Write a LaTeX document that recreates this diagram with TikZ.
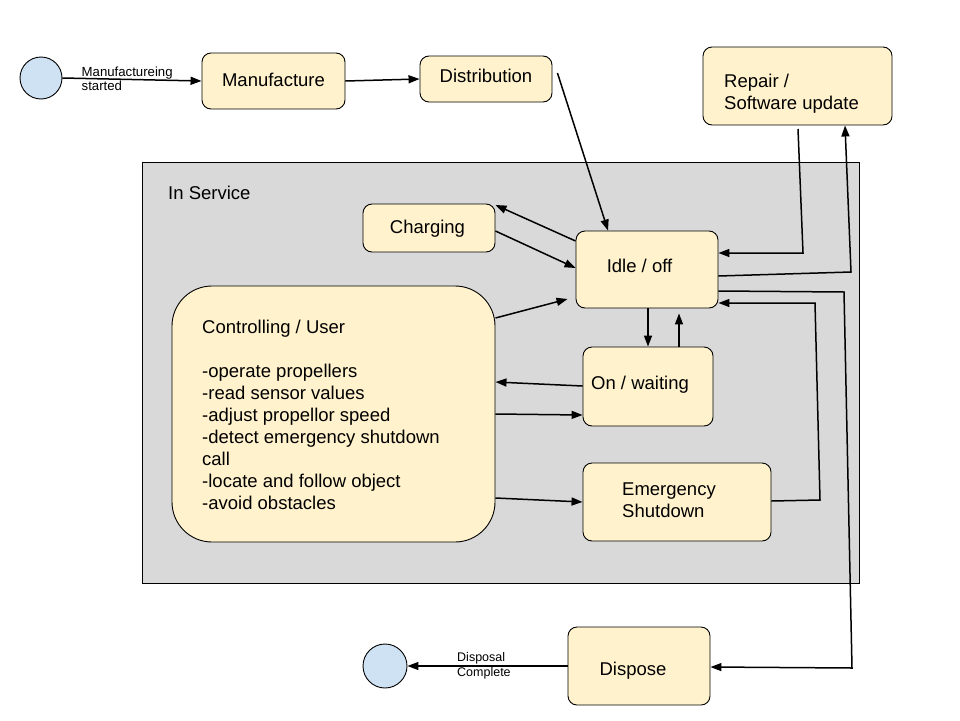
\documentclass[tikz,border=0pt]{standalone}
\usepackage{fontspec}
\setmainfont{Liberation Sans}
\usetikzlibrary{arrows.meta,calc}
\definecolor{boxfill}{HTML}{FFF2CC}
\definecolor{circfill}{HTML}{CFE2F3}
\definecolor{grayfill}{HTML}{D9D9D9}
\begin{document}
\begin{tikzpicture}[x=1pt,y=-1pt,
 state/.style={draw, fill=boxfill, rounded corners=9pt, line width=0.9pt, inner sep=0pt},
 txt/.style={font=\fontsize{18.5}{22}\selectfont, align=left, inner sep=0pt},
 endpt/.style={circle, draw, fill=circfill, line width=0.9pt, inner sep=0pt},
 conn/.style={line width=1.5pt, -{Triangle[length=11pt,width=8pt]}},
 lbl/.style={align=left, inner sep=0pt}]
\useasboundingbox (0,0) rectangle (960,720);
% container
\node[draw, fill=grayfill, line width=0.9pt, minimum width=717pt, minimum height=421pt, inner sep=0pt] (service) at (500.5,372.5) {};
\node[txt, anchor=west] (servicelbl) at (168,193) {In Service};
% endpoints
\node[endpt, minimum size=42pt] (start) at (41,78) {};
\node[endpt, minimum size=44pt] (finish) at (385,666) {};
% states
\node[state, minimum width=143pt, minimum height=56pt] (manu) at (273.5,81) {};
\node[txt] (manut) at (273.5,80) {Manufacture};
\node[state, minimum width=132pt, minimum height=46pt] (dist) at (486,79) {};
\node[txt] (distt) at (486,76) {Distribution};
\node[state, minimum width=189pt, minimum height=78pt] (rep) at (797.5,86) {};
\node[txt, anchor=west] (rept) at (724,94) {Repair /\\Software update};
\node[state, minimum width=132pt, minimum height=48pt] (char) at (429,228) {};
\node[txt] (chart) at (427.5,229) {Charging};
\node[state, minimum width=142pt, minimum height=77pt] (idle) at (647,269.5) {};
\node[txt] (idlet) at (639.5,266) {Idle / off};
\node[state, rounded corners=40pt, minimum width=323pt, minimum height=256pt] (ctrl) at (333.5,414) {};
\node[txt, anchor=west] (ctrlt) at (202,415) {Controlling / User\\[22pt]-operate propellers\\-read sensor values\\-adjust propellor speed\\-detect emergency shutdown\\call\\-locate and follow object\\-avoid obstacles};
\node[state, minimum width=130pt, minimum height=79pt] (on) at (648,386.5) {};
\node[txt] (ont) at (640,385) {On / waiting};
\node[state, minimum width=188pt, minimum height=78pt] (emer) at (677,502) {};
\node[txt, anchor=west] (emert) at (622,500) {Emergency\\Shutdown};
\node[state, minimum width=142pt, minimum height=78pt] (disp) at (639,666) {};
\node[txt] (dispt) at (633,671) {Dispose};
% connectors
\draw[conn] (start.east) -- (manu.west);
\node[lbl, anchor=west, font=\fontsize{13.2}{14.5}\selectfont] (startlbl) at (81.5,79) {Manufactureing\\started};
\draw[conn] (manu.east) -- (dist.west);
\draw[conn] ([xshift=5pt,yshift=6pt]dist.east) -- (608,0 |- idle.north);
\draw[conn] (idle.west |- 0,241) -- (char.east |- 0,205);
\draw[conn] (char.east |- 0,231) -- (idle.west |- 0,268);
\draw[conn] (ctrl.east |- 0,318) -- ($(idle.west |- 0,299)+(-8,0)$);
\draw[conn] (648,0 |- idle.south) -- (648,0 |- on.north);
\draw[conn] (679,0 |- on.north) -- ($(679,0 |- idle.south)+(0,5)$);
\draw[conn] (on.west |- 0,386) -- (ctrl.east |- 0,382);
\draw[conn] (ctrl.east |- 0,414) -- (on.west |- 0,415);
\draw[conn] (ctrl.east |- 0,498) -- (emer.west |- 0,502);
\coordinate (e1) at (820,500);
\coordinate (e2) at (815,303);
\draw[conn] (emer.east |- 0,501) -- (e1) -- (e2) -- (idle.east |- 0,303);
\coordinate (r1) at (798,129);
\coordinate (r2) at (803,253);
\draw[conn] (r1) -- (r2) -- (idle.east |- 0,253);
\coordinate (u1) at (851,272);
\draw[conn] (idle.east |- 0,276) -- (u1) -- (845,0 |- rep.south);
\coordinate (d1) at (844,292);
\coordinate (d2) at (852,668);
\draw[conn] (idle.east |- 0,291) -- (d1) -- (d2) -- (disp.east |- 0,667);
\draw[conn] (disp.west) -- (finish.east);
\node[lbl, anchor=west, font=\fontsize{12.5}{15}\selectfont] (endlbl) at (457,666) {Disposal\\Complete};
\end{tikzpicture}
\end{document}
